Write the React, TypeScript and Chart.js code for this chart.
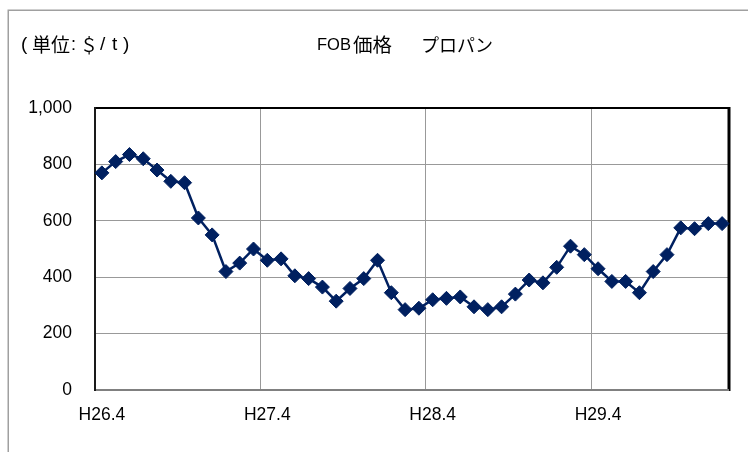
import React, { useEffect, useRef } from 'react';
import { Chart, registerables } from 'chart.js';

Chart.register(...registerables);

const months: string[] = [
  'H26.4', 'H26.5', 'H26.6', 'H26.7', 'H26.8', 'H26.9', 'H26.10', 'H26.11', 'H26.12',
  'H27.1', 'H27.2', 'H27.3', 'H27.4', 'H27.5', 'H27.6', 'H27.7', 'H27.8', 'H27.9',
  'H27.10', 'H27.11', 'H27.12', 'H28.1', 'H28.2', 'H28.3', 'H28.4', 'H28.5', 'H28.6',
  'H28.7', 'H28.8', 'H28.9', 'H28.10', 'H28.11', 'H28.12', 'H29.1', 'H29.2', 'H29.3',
  'H29.4', 'H29.5', 'H29.6', 'H29.7', 'H29.8', 'H29.9', 'H29.10', 'H29.11', 'H29.12',
  'H30.1',
];

const propanePrices: number[] = [
  770, 810, 835, 820, 780, 740, 735, 610, 550,
  420, 450, 500, 460, 465, 405, 395, 365, 315,
  360, 395, 460, 345, 285, 290, 320, 325, 330,
  295, 285, 295, 340, 390, 380, 435, 510, 480,
  430, 385, 385, 345, 420, 480, 575, 572, 590,
  590,
];

const shownMonthLabels: string[] = ['H26.4', 'H27.4', 'H28.4', 'H29.4'];
const yTickValues: number[] = [0, 200, 400, 600, 800, 1000];

const titleParts: string[] = ['FOB', '価格', 'プロパン'];
const unitParts: string[] = ['(', '単位', ':', '＄', '/', 't', ')'];

const LATIN = "'Liberation Sans', Arial, sans-serif";
const CJK = "'Noto Sans CJK JP', 'Liberation Sans', sans-serif";
const LINE_COLOR = '#002060';

const framePlugin = {
  id: 'frame',
  beforeDraw(chart: any) {
    const ctx = chart.ctx;
    ctx.save();
    ctx.fillStyle = '#ffffff';
    ctx.fillRect(0, 0, chart.width, chart.height);
    ctx.strokeStyle = '#a0a0a0';
    ctx.lineWidth = 1.5;
    ctx.beginPath();
    ctx.moveTo(8.25, chart.height);
    ctx.lineTo(8.25, 10.25);
    ctx.lineTo(chart.width, 10.25);
    ctx.stroke();
    ctx.restore();
  },
  beforeDatasetsDraw(chart: any) {
    const ctx = chart.ctx;
    const { left, right, top, bottom } = chart.chartArea;
    ctx.save();
    ctx.strokeStyle = '#000000';
    ctx.lineWidth = 2;
    ctx.beginPath();
    ctx.moveTo(left, top);
    ctx.lineTo(right, top);
    ctx.stroke();
    ctx.lineWidth = 3;
    ctx.beginPath();
    ctx.moveTo(right, top - 1);
    ctx.lineTo(right, bottom + 1);
    ctx.stroke();
    ctx.strokeStyle = '#808080';
    ctx.lineWidth = 2;
    ctx.beginPath();
    ctx.moveTo(left, bottom);
    ctx.lineTo(right, bottom);
    ctx.stroke();
    ctx.strokeStyle = '#1a1a1a';
    ctx.lineWidth = 2;
    ctx.beginPath();
    ctx.moveTo(left, top - 1);
    ctx.lineTo(left, bottom + 1);
    ctx.stroke();
    ctx.restore();
  },
  afterDraw(chart: any) {
    const ctx = chart.ctx;
    ctx.save();
    ctx.fillStyle = '#000000';
    ctx.textBaseline = 'middle';
    ctx.textAlign = 'left';
    const y = 45;
    const unitLayout: [string, number][] = [
      [`19px ${LATIN}`, 21],
      [`19px ${CJK}`, 32],
      [`18px ${LATIN}`, 71],
      [`18px ${CJK}`, 80],
      [`19px ${LATIN}`, 100],
      [`19px ${LATIN}`, 112],
      [`19px ${LATIN}`, 123],
    ];
    unitParts.forEach((t, i) => {
      ctx.font = unitLayout[i][0];
      ctx.fillText(t, unitLayout[i][1], y);
    });
    const titleLayout: [string, number][] = [
      [`16.5px ${LATIN}`, 317],
      [`19.5px ${CJK}`, 353],
      [`18px ${CJK}`, 421],
    ];
    titleParts.forEach((t, i) => {
      ctx.font = titleLayout[i][0];
      ctx.fillText(t, titleLayout[i][1], y);
    });
    ctx.restore();
  },
};

export default function App() {
  const canvasRef = useRef<HTMLCanvasElement | null>(null);

  useEffect(() => {
    if (!canvasRef.current) return;
    const chart = new Chart(canvasRef.current, {
      type: 'line',
      data: {
        labels: months,
        datasets: [
          {
            label: 'プロパン',
            data: propanePrices,
            borderColor: LINE_COLOR,
            backgroundColor: LINE_COLOR,
            borderWidth: 2.5,
            pointStyle: 'rectRot',
            pointRadius: 7,
            pointBorderWidth: 1,
            pointBackgroundColor: LINE_COLOR,
            pointBorderColor: LINE_COLOR,
            tension: 0,
          },
        ],
      },
      options: {
        responsive: false,
        animation: false,
        events: [],
        layout: { padding: { top: 108, right: 19, left: 0, bottom: 0 } },
        plugins: {
          legend: { display: false },
          title: { display: false },
          tooltip: { enabled: false },
        },
        scales: {
          x: {
            type: 'category',
            offset: true,
            border: { display: false },
            grid: {
              offset: true,
              drawTicks: false,
              lineWidth: 1,
              color: (c: any) =>
                c.index !== undefined && shownMonthLabels.includes(months[c.index]) && c.index !== 0
                  ? '#999999'
                  : 'rgba(0,0,0,0)',
            },
            ticks: {
              autoSkip: false,
              maxRotation: 0,
              minRotation: 0,
              padding: 15,
              color: '#000000',
              font: { family: LATIN, size: 17.5 },
              callback: (_v: any, i: number) =>
                shownMonthLabels.includes(months[i]) ? months[i] : '',
            },
            afterFit: (scale: any) => {
              scale.height = 62;
            },
          },
          y: {
            min: 0,
            max: 1000,
            afterBuildTicks: (scale: any) => {
              scale.ticks = yTickValues.map((v) => ({ value: v }));
            },
            border: { display: false },
            grid: {
              drawTicks: false,
              lineWidth: 1,
              color: (c: any) =>
                c.tick && (c.tick.value === 0 || c.tick.value === 1000)
                  ? 'rgba(0,0,0,0)'
                  : '#999999',
            },
            ticks: {
              padding: 23,
              color: '#000000',
              font: { family: LATIN, size: 17.5 },
              callback: (v: any) => Number(v).toLocaleString('en-US'),
            },
            afterFit: (scale: any) => {
              scale.width = 95;
            },
          },
        },
      },
      plugins: [framePlugin],
    });
    return () => chart.destroy();
  }, []);

  return (
    <div style={{ position: 'absolute', left: 0, top: 0, width: 748, height: 452 }}>
      <canvas ref={canvasRef} width={748} height={452} />
    </div>
  );
}
